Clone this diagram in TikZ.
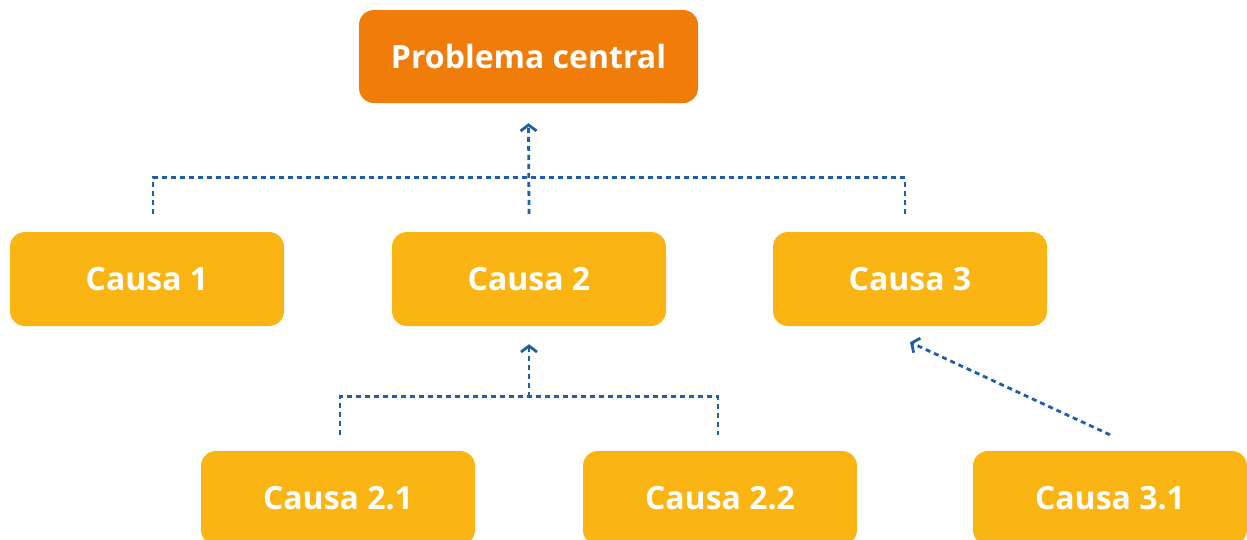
\documentclass[tikz,border=0pt]{standalone}
\usepackage{fontspec}
\setmainfont{Open Sans}
\usetikzlibrary{arrows.meta,positioning}
\definecolor{probcol}{RGB}{240,124,10}
\definecolor{causecol}{RGB}{250,181,21}
\definecolor{linkcol}{RGB}{31,94,168}
\tikzset{
  problem/.style   = {rounded corners=15pt, fill=probcol, text=white, inner sep=0pt,
                      font=\fontsize{32}{38}\selectfont\bfseries,
                      minimum width=339pt, minimum height=93pt},
  cause/.style     = {rounded corners=15pt, fill=causecol, text=white, inner sep=0pt,
                      font=\fontsize{32}{38}\selectfont\bfseries,
                      minimum width=274pt, minimum height=94pt},
  link/.style      = {linkcol, line width=2.8pt, dash pattern=on 5pt off 4pt},
  linkarrow/.style = {link, -{Straight Barb[length=6pt,width=16pt]}},
}

\begin{document}
\begin{tikzpicture}[x=1pt, y=-1pt]
  \useasboundingbox (0,0) rectangle (1247,539);
  \node[problem] (prob) at (528.5,56.5) {Problema central};
  \node[cause] (c1)  at (147,279)  {Causa 1};
  \node[cause] (c2)  at (529,279)  {Causa 2};
  \node[cause] (c3)  at (910,279)  {Causa 3};
  \node[cause] (c21) at (338,498)  {Causa 2.1};
  \node[cause] (c22) at (720,498)  {Causa 2.2};
  \node[cause] (c31) at (1110,498) {Causa 3.1};
  % first level
  \path ([xshift=6pt,yshift=54pt]c1.north) coordinate (bar1);
  \path ([xshift=-5pt]c3.north) coordinate (end3);
  \draw[link] ([yshift=18pt]bar1 |- c1.north) -- (bar1) -- (bar1 -| end3)
              -- ([yshift=18pt]end3);
  \draw[linkarrow] ([yshift=18pt]c2.north) -- ([yshift=-20pt]prob.south);
  % second level
  \path ([xshift=2pt,yshift=54pt]c21.north) coordinate (bar2);
  \path ([xshift=-2pt]c22.north) coordinate (end22);
  \draw[link] ([yshift=16pt]bar2 |- c21.north) -- (bar2) -- (bar2 -| end22)
              -- ([yshift=16pt]end22);
  \draw[linkarrow] (bar2 -| c2.south) -- ([yshift=-18pt]c2.south);
  \draw[linkarrow] ([yshift=16pt]c31.north) -- ([yshift=-16pt]c3.south);
\end{tikzpicture}
\end{document}
